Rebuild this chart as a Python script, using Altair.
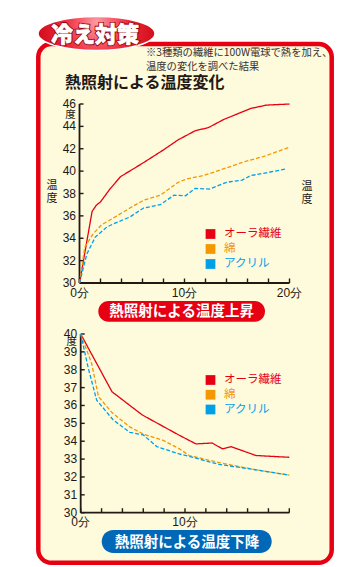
import altair as alt
import pandas as pd

# ---------------- data ----------------
series = ["オーラ繊維", "綿", "アクリル"]

# heating (温度上昇), minutes -> °C
rise_aura_t = [0, 1.2, 1.6, 2.0, 2.9, 3.9, 6, 8, 9.4, 11, 12.3, 13.7, 15, 16.3, 17.8, 20]
rise_aura_v = [30, 36.4, 36.95, 37.25, 38.4, 39.5, 40.7, 41.9, 42.8, 43.6, 43.9, 44.6, 45.1, 45.6, 45.9, 46.0]
rise_cotton_t = [0, 0.5, 1.3, 2.1, 3.2, 4.8, 6.1, 7.7, 9.4, 10.2, 11.8, 13.4, 15.9, 17.5, 19.9]
rise_cotton_v = [30, 33.2, 34.4, 35.2, 35.8, 36.7, 37.4, 37.85, 39.0, 39.3, 39.6, 40.1, 40.9, 41.3, 42.1]
rise_acryl_t = [0, 0.7, 1.5, 2.6, 3.5, 4.8, 6.1, 7.7, 9.0, 10.1, 11.0, 12.4, 14.0, 15.5, 16.3, 17.8, 19.7]
rise_acryl_v = [30, 32.6, 34.1, 35.0, 35.4, 35.9, 36.7, 37.0, 37.85, 37.8, 38.45, 38.4, 39.0, 39.2, 39.6, 39.85, 40.2]

# cooling (温度下降)
fall_aura_t = [0, 3, 5.9, 9.4, 11.05, 12.6, 13.6, 14.4, 16.8, 20]
fall_aura_v = [40, 36.77, 35.47, 34.35, 33.85, 33.9, 33.57, 33.7, 33.2, 33.1]
fall_cotton_t = [0, 1.05, 1.7, 3, 4.7, 6, 7.9, 9.4, 10.4, 13.3, 16.8, 20]
fall_cotton_v = [40, 38.35, 36.5, 35.6, 34.8, 34.4, 34.05, 33.6, 33.2, 32.8, 32.4, 32.1]
fall_acryl_t = [0, 0.73, 1.53, 3.1, 4.7, 6, 7.3, 9.36, 10.4, 13.3, 16.8, 20]
fall_acryl_v = [40, 38.08, 36.3, 35.2, 34.5, 34.35, 33.7, 33.3, 33.15, 32.7, 32.4, 32.1]

top_yticks = [30, 32, 34, 36, 38, 40, 42, 44, 46]
bot_yticks = [30, 31, 32, 33, 34, 35, 36, 37, 38, 39, 40]
xticks = [0, 2, 4, 6, 8, 10, 12, 14, 16, 18, 20]
top_xlabels = [0, 10, 20]
bot_xlabels = [0, 10]

badge_text = "冷え対策"
note_lines = ["※3種類の繊維に100W電球で熱を加え、", "温度の変化を調べた結果"]
title_text = "熱照射による温度変化"
rise_label = "熱照射による温度上昇"
fall_label = "熱照射による温度下降"
unit_text = "度"

# ---------------- styles ----------------
RED = "#e60012"
ORANGE = "#f39800"
BLUE = "#00a0e9"
NAVY = "#0068b7"
CREAM = "#fefadc"
INK = "#231815"
JP = "Noto Sans CJK JP"
NUM = "Liberation Sans Narrow, Liberation Sans, sans-serif"

color_scale = alt.Scale(domain=series, range=[RED, ORANGE, BLUE])
dash_scale = alt.Scale(domain=series, range=[[1, 0], [4, 2], [4, 2]])


def frame(ts_vs):
    rows = []
    for name, (ts, vs) in zip(series, ts_vs):
        for t, v in zip(ts, vs):
            rows.append({"s": name, "t": t, "v": v})
    return pd.DataFrame(rows)


rise_df = frame([(rise_aura_t, rise_aura_v), (rise_cotton_t, rise_cotton_v), (rise_acryl_t, rise_acryl_v)])
fall_df = frame([(fall_aura_t, fall_aura_v), (fall_cotton_t, fall_cotton_v), (fall_acryl_t, fall_acryl_v)])

one = alt.Chart(pd.DataFrame({"k": [0]}))


def panel(df, yticks, xlabels, xs, ys, x0px, y0px, unit_px, legend_range):
    layers = []
    ticks_df = pd.DataFrame({"v": yticks})
    xt_df = pd.DataFrame({"t": xticks})
    # axis lines
    ax_df = pd.DataFrame({"t0": [0], "t1": [20], "v0": [yticks[0]], "v1": [yticks[-1]]})
    layers.append(alt.Chart(ax_df).mark_rule(color=INK, strokeWidth=1.8).encode(
        x=alt.value(x0px),
        y=alt.Y("v0:Q", scale=ys, axis=None), y2="v1:Q"))
    layers.append(alt.Chart(ax_df).mark_rule(color=INK, strokeWidth=1.8).encode(
        y=alt.value(y0px),
        x=alt.X("t0:Q", scale=xs, axis=None), x2="t1:Q"))
    # ticks
    layers.append(alt.Chart(ticks_df).mark_rule(color=INK, strokeWidth=1.4).encode(
        y=alt.Y("v:Q", scale=ys, axis=None), x=alt.value(x0px), x2=alt.value(x0px + 4)))
    layers.append(alt.Chart(xt_df).mark_rule(color=INK, strokeWidth=1.4).encode(
        x=alt.X("t:Q", scale=xs, axis=None), y=alt.value(y0px), y2=alt.value(y0px - 4.5)))
    # tick labels
    layers.append(alt.Chart(ticks_df).mark_text(align="right", baseline="middle", font=NUM,
                                                fontSize=12, color=INK).encode(
        y=alt.Y("v:Q", scale=ys, axis=None), x=alt.value(x0px - 3.5),
        text=alt.Text("v:Q", format="d")))
    xl_df = pd.DataFrame({"t": xlabels, "lab": [f"{t}分" for t in xlabels]})
    layers.append(alt.Chart(xl_df).mark_text(align="center", baseline="middle", font=NUM,
                                             fontSize=12, color=INK).encode(
        x=alt.X("t:Q", scale=xs, axis=None), y=alt.value(y0px + 9.5), text="lab:N"))
    # unit label tucked under the top tick label
    layers.append(one.mark_text(font=JP, fontSize=10.5, color=INK, baseline="middle").encode(
        x=alt.value(x0px - 9), y=alt.value(unit_px), text=alt.value(unit_text)))
    # data lines
    layers.append(alt.Chart(df).mark_line(strokeWidth=1.3).encode(
        x=alt.X("t:Q", scale=xs, axis=None),
        y=alt.Y("v:Q", scale=ys, axis=None),
        color=alt.Color("s:N", scale=color_scale, legend=None),
        strokeDash=alt.StrokeDash("s:N", scale=dash_scale, legend=None),
        detail="s:N"))
    # legend
    lg_df = pd.DataFrame({"s": series, "i": [0, 1, 2]})
    lg_y = alt.Scale(domain=[0, 2], range=legend_range, nice=False, zero=False)
    layers.append(alt.Chart(lg_df).mark_square(size=95, opacity=1).encode(
        x=alt.value(210.5), y=alt.Y("i:Q", scale=lg_y, axis=None),
        color=alt.Color("s:N", scale=color_scale, legend=None)))
    layers.append(alt.Chart(lg_df).mark_text(align="left", baseline="middle", font=JP,
                                             fontSize=11.5).encode(
        x=alt.value(224), y=alt.Y("i:Q", scale=lg_y, axis=None), text="s:N",
        color=alt.Color("s:N", scale=color_scale, legend=None)))
    return layers


top_x = alt.Scale(domain=[0, 20], range=[79.5, 289.5], nice=False, zero=False)
top_y = alt.Scale(domain=[30, 46], range=[283, 104], nice=False, zero=False)
bot_x = alt.Scale(domain=[0, 20], range=[80.7, 289.3], nice=False, zero=False)
bot_y = alt.Scale(domain=[30, 40], range=[512.7, 334], nice=False, zero=False)

# ---------------- decoration ----------------
bg_frame = one.mark_rect(fill=CREAM, stroke=RED, strokeWidth=4.5, cornerRadius=13).encode(
    x=alt.value(38.3), x2=alt.value(331.7), y=alt.value(44), y2=alt.value(562.8))

badge = one.mark_point(
    shape="M-1,0A1,0.29,0,1,1,1,0A1,0.29,0,1,1,-1,0",
    size=117 ** 2, filled=True, opacity=1,
    fill={"gradient": "radial", "x1": 0.5, "y1": 0.4, "r1": 0, "x2": 0.5, "y2": 0.5, "r2": 0.6,
          "stops": [{"offset": 0, "color": "#ff9aa4"}, {"offset": 0.45, "color": "#ef2a3c"},
                    {"offset": 1, "color": "#c4000e"}]},
    stroke="white", strokeWidth=1.5).encode(x=alt.value(96.5), y=alt.value(33.5))
badge_outline = one.mark_text(font=JP, fontSize=22, fontWeight=900, fill="#8f000b",
                              stroke="#8f000b", strokeWidth=2.4, align="center",
                              baseline="middle").encode(
    x=alt.value(95), y=alt.value(35), text=alt.value(badge_text))
badge_txt = one.mark_text(font=JP, fontSize=22, fontWeight=900, fill="white",
                          stroke="white", strokeWidth=0.7, align="center",
                          baseline="middle").encode(
    x=alt.value(95), y=alt.value(35), text=alt.value(badge_text))

note1 = one.mark_text(font=JP, fontSize=10.3, color="#333333", align="left", baseline="middle").encode(
    x=alt.value(146), y=alt.value(53), text=alt.value(note_lines[0]))
note2 = one.mark_text(font=JP, fontSize=10.3, color="#333333", align="left", baseline="middle").encode(
    x=alt.value(146), y=alt.value(66.5), text=alt.value(note_lines[1]))
title = one.mark_text(font=JP, fontSize=16, fontWeight="bold", color=INK, align="left",
                      baseline="middle").encode(
    x=alt.value(65), y=alt.value(83), text=alt.value(title_text))

side_l1 = one.mark_text(font=JP, fontSize=11, color=INK).encode(x=alt.value(52), y=alt.value(186), text=alt.value("温"))
side_l2 = one.mark_text(font=JP, fontSize=11, color=INK).encode(x=alt.value(52), y=alt.value(199), text=alt.value("度"))
side_r1 = one.mark_text(font=JP, fontSize=11, color=INK).encode(x=alt.value(307), y=alt.value(186.5), text=alt.value("温"))
side_r2 = one.mark_text(font=JP, fontSize=11, color=INK).encode(x=alt.value(307), y=alt.value(199.5), text=alt.value("度"))

pill_top = one.mark_rect(fill=RED, cornerRadius=10.3).encode(
    x=alt.value(98.3), x2=alt.value(265), y=alt.value(301), y2=alt.value(321.7))
pill_top_txt = one.mark_text(font=JP, fontSize=14.5, fontWeight="bold", color="white",
                             baseline="middle").encode(
    x=alt.value(181.6), y=alt.value(312), text=alt.value(rise_label))
pill_bot = one.mark_rect(fill=NAVY, cornerRadius=11.5).encode(
    x=alt.value(101.7), x2=alt.value(271.7), y=alt.value(530), y2=alt.value(553))
pill_bot_txt = one.mark_text(font=JP, fontSize=14.5, fontWeight="bold", color="white",
                             baseline="middle").encode(
    x=alt.value(187), y=alt.value(542.5), text=alt.value(fall_label))

layers = [bg_frame, badge, badge_outline, badge_txt, note1, note2, title,
          side_l1, side_l2, side_r1, side_r2]
layers += panel(rise_df, top_yticks, top_xlabels, top_x, top_y, 79.5, 283, 115, [234, 264])
layers += panel(fall_df, bot_yticks, bot_xlabels, bot_x, bot_y, 80.7, 512.7, 341.5, [380, 409.5])
layers += [pill_top, pill_top_txt, pill_bot, pill_bot_txt]

chart = alt.layer(*layers).resolve_scale(
    x="independent", y="independent", color="independent", strokeDash="independent"
).properties(
    width=340, height=567, padding=0, autosize="none", background="white"
).configure_view(stroke=None)

chart.save("out.html", embed_options={"renderer": "svg", "actions": False})
